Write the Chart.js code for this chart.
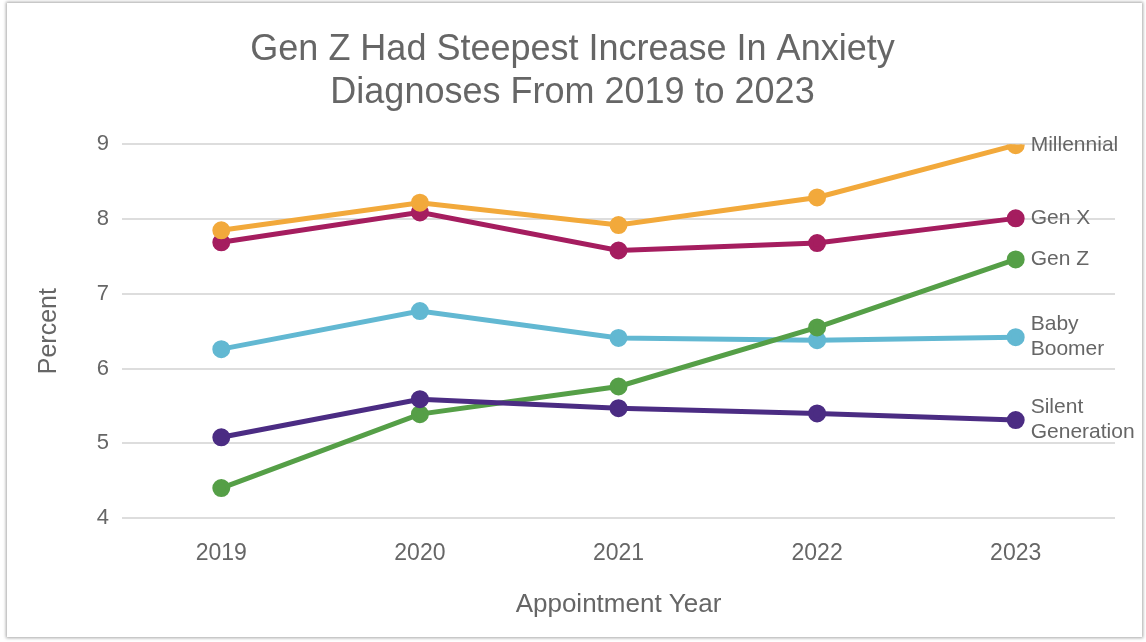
<!DOCTYPE html>
<html>
<head>
<meta charset="utf-8">
<script src="https://cdn.jsdelivr.net/npm/chart.js"></script>
<style>
  body { margin: 0; background: #fff; }
  #card {
    position: absolute; left: 7px; top: 3px; width: 1135px; height: 634px;
    background: #fff; box-shadow: 0 0 3px 1px rgba(0,0,0,0.35);
  }
  #mycanvas { position: absolute; left: 0; top: 0; }
</style>
</head>
<body>
<div id="card"></div>
<canvas id="mycanvas" width="1146" height="642"></canvas>
<script>
var years = ["2019", "2020", "2021", "2022", "2023"];

var millennial = [7.85, 8.22, 7.92, 8.29, 8.99];
var genX       = [7.69, 8.09, 7.58, 7.68, 8.01];
var silentGen  = [5.08, 5.59, 5.47, 5.40, 5.31];
var genZ       = [4.40, 5.39, 5.76, 6.55, 7.46];
var babyBoomer = [6.26, 6.77, 6.41, 6.38, 6.42];

var seriesNames  = ["Millennial", "Gen X", "Silent Generation", "Gen Z", "Baby Boomer"];
var endLabels    = [["Millennial"], ["Gen X"], ["Silent", "Generation"], ["Gen Z"], ["Baby", "Boomer"]];
var seriesColors = ["#F2A93B", "#A51D5F", "#4B2C83", "#559F47", "#62B8D2"];
var seriesValues = [millennial, genX, silentGen, genZ, babyBoomer];

var textColor = "#666666";
var fontFamily = "'Liberation Sans', Arial, sans-serif";

var datasets = [];
for (var i in seriesValues) {
  datasets.push({
    label: seriesNames[i],
    data: seriesValues[i],
    borderColor: seriesColors[i],
    backgroundColor: seriesColors[i],
    pointBackgroundColor: seriesColors[i],
    pointBorderColor: seriesColors[i],
    borderWidth: 5,
    pointRadius: 6.5,
    pointHoverRadius: 6.5,
    fill: false,
    lineTension: 0
  });
}

// names written next to the last point of each line
var endLabelPlugin = {
  id: "endLabels",
  afterDatasetsDraw: function(chart) {
    var ctx = chart.ctx;
    ctx.save();
    ctx.font = "21px " + fontFamily;
    ctx.fillStyle = textColor;
    ctx.textAlign = "left";
    ctx.textBaseline = "middle";
    chart.data.datasets.forEach(function(ds, idx) {
      var meta = chart.getDatasetMeta(idx);
      var pt = meta.data[meta.data.length - 1];
      var lines = endLabels[idx];
      var lineH = 25;
      var y0 = pt.y - (lines.length - 1) * lineH / 2;
      for (var j = 0; j < lines.length; j++) {
        ctx.fillText(lines[j], pt.x + 15, y0 + j * lineH);
      }
    });
    ctx.restore();
  }
};

var ctx = document.getElementById("mycanvas");
var LineGraph = new Chart(ctx, {
  type: "line",
  data: { labels: years, datasets: datasets },
  plugins: [endLabelPlugin],
  options: {
    responsive: false,
    animation: false,
    layout: { padding: { left: 30, right: 31, top: 0, bottom: 0 } },
    plugins: {
      legend: { display: false },
      tooltip: { enabled: false },
      title: {
        display: true,
        text: ["Gen Z Had Steepest Increase In Anxiety", "Diagnoses From 2019 to 2023"],
        color: textColor,
        font: { family: fontFamily, size: 36, weight: "normal", lineHeight: 1.2 },
        padding: { top: 28, bottom: 30 }
      }
    },
    scales: {
      x: {
        offset: true,
        grid: { display: false, drawTicks: false },
        border: { display: false },
        ticks: { color: textColor, padding: 22, font: { family: fontFamily, size: 23 } },
        title: {
          display: true,
          text: "Appointment Year",
          color: textColor,
          font: { family: fontFamily, size: 26 },
          padding: { top: 0, bottom: 22 }
        },
        afterFit: function(scale) { scale.height = 124; }
      },
      y: {
        min: 4,
        max: 9,
        grid: { color: "#dddddd", lineWidth: 2, drawTicks: false },
        border: { display: false },
        ticks: { stepSize: 1, color: textColor, padding: 13, font: { family: fontFamily, size: 22 } },
        title: {
          display: true,
          text: "Percent",
          color: textColor,
          font: { family: fontFamily, size: 25 },
          padding: { top: 4, bottom: 0 }
        },
        afterFit: function(scale) { scale.width = 92; }
      }
    }
  }
});
</script>
</body>
</html>
